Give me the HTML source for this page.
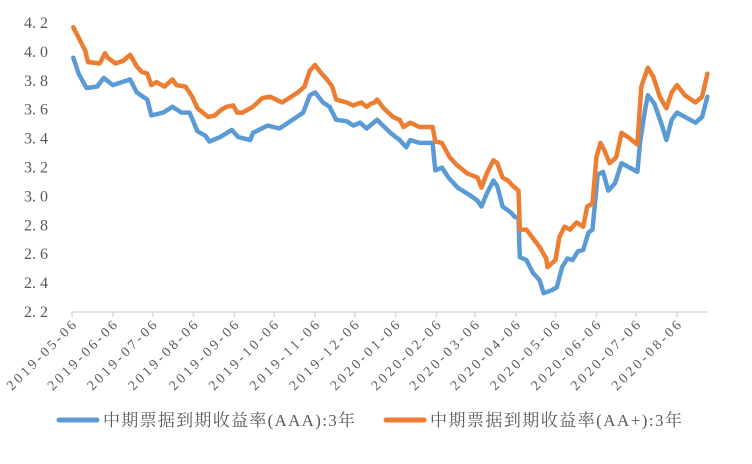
<!DOCTYPE html>
<html><head><meta charset="utf-8">
<style>
body{margin:0;background:#fff;}
svg{display:block;font-family:"Liberation Serif","Noto Serif CJK SC",serif;}
</style></head>
<body>
<svg id="chart" width="752" height="464" viewBox="0 0 752 464" xmlns="http://www.w3.org/2000/svg">
<g id="yaxis"></g>
<g id="xaxis"></g>
<g id="series"></g>
<g>
  <g>
    <line x1="59" y1="420" x2="97" y2="420" stroke="#5B9BD5" stroke-width="5" stroke-linecap="round"/>
    <text x="103" y="426" font-size="17" fill="#595959" textLength="252" font-family="'Liberation Serif','Noto Serif CJK SC',serif">中期票据到期收益率(AAA):3年</text>
  </g>
  <g>
    <line x1="386" y1="420" x2="424" y2="420" stroke="#ED7D31" stroke-width="5" stroke-linecap="round"/>
    <text x="430" y="426" font-size="17" fill="#595959" textLength="252" font-family="'Liberation Serif','Noto Serif CJK SC',serif">中期票据到期收益率(AA+):3年</text>
  </g>
</g>
</svg>
<script>
const yTicks = [2.2,2.4,2.6,2.8,3.0,3.2,3.4,3.6,3.8,4.0,4.2];
const yTickLabels = ["2. 2","2. 4","2. 6","2. 8","3. 0","3. 2","3. 4","3. 6","3. 8","4. 0","4. 2"];
const xTickDays = [0,31,61,92,123,153,184,214,245,276,305,336,366,397,427,458];
const xTickLabels = ["2019-05-06","2019-06-06","2019-07-06","2019-08-06","2019-09-06","2019-10-06","2019-11-06","2019-12-06","2020-01-06","2020-02-06","2020-03-06","2020-04-06","2020-05-06","2020-06-06","2020-07-06","2020-08-06"];
const aaaDays = [1,5,11,19,24,31,44,49,57,60,69,76,83,89,95,101,104,112,121,126,135,137,148,157,167,175,180,184,190,195,200,208,213,218,223,231,241,248,253,256,263,273,275,280,285,292,301,307,310,314,319,322,326,332,335,338,339,344,349,354,357,363,367,371,375,379,383,387,391,394,398,402,406,411,416,422,428,430,434,436,441,447,450,454,458,464,472,477,481];
const aaaValues = [3.96,3.85,3.75,3.76,3.82,3.77,3.81,3.72,3.67,3.56,3.58,3.62,3.58,3.58,3.45,3.42,3.38,3.41,3.46,3.41,3.39,3.44,3.49,3.47,3.53,3.58,3.70,3.72,3.65,3.62,3.53,3.52,3.49,3.51,3.47,3.53,3.44,3.39,3.34,3.39,3.37,3.37,3.18,3.20,3.13,3.06,3.01,2.97,2.93,3.02,3.11,3.07,2.93,2.89,2.86,2.85,2.58,2.56,2.47,2.42,2.33,2.35,2.37,2.51,2.57,2.56,2.62,2.63,2.75,2.77,3.15,3.17,3.04,3.09,3.23,3.20,3.17,3.37,3.61,3.70,3.64,3.48,3.39,3.53,3.58,3.55,3.51,3.55,3.69];
const aapDays = [1,10,12,21,25,27,33,39,44,49,53,57,60,64,70,76,79,86,91,95,99,103,108,113,117,122,125,129,137,144,150,159,166,171,176,180,184,188,193,197,200,208,213,219,223,226,229,231,236,243,248,251,256,263,273,275,280,286,291,299,307,310,314,319,322,326,330,334,338,339,344,349,354,359,360,366,369,373,377,382,387,390,394,397,400,403,407,412,416,421,428,431,436,440,445,450,454,458,464,472,477,481];
const aapValues = [4.17,4.01,3.93,3.92,3.99,3.96,3.92,3.94,3.98,3.90,3.86,3.85,3.77,3.79,3.76,3.81,3.77,3.76,3.69,3.61,3.58,3.55,3.56,3.60,3.62,3.63,3.58,3.58,3.62,3.68,3.69,3.65,3.69,3.72,3.76,3.87,3.91,3.86,3.81,3.76,3.67,3.65,3.63,3.65,3.62,3.64,3.65,3.67,3.61,3.55,3.53,3.48,3.51,3.48,3.48,3.38,3.37,3.27,3.22,3.16,3.13,3.06,3.16,3.25,3.23,3.13,3.11,3.07,3.04,2.77,2.77,2.71,2.65,2.57,2.51,2.56,2.72,2.79,2.77,2.82,2.79,2.93,2.95,3.27,3.37,3.32,3.23,3.27,3.44,3.41,3.36,3.76,3.89,3.83,3.69,3.61,3.72,3.77,3.70,3.65,3.69,3.85];

const NS = "http://www.w3.org/2000/svg";
const x0 = 72, pxPerDay = (677 - 72) / 458;
const yTop = 23, yBot = 312, vMin = 2.2, vMax = 4.2;
function xScale(d){ return x0 + d * pxPerDay; }
function yScale(v){ return yBot - (v - vMin) / (vMax - vMin) * (yBot - yTop); }
function mk(tag, attrs, parent){ const e = document.createElementNS(NS, tag); for (const k in attrs) e.setAttribute(k, attrs[k]); parent.appendChild(e); return e; }

const yaxis = document.getElementById('yaxis');
yTicks.forEach((v, i) => {
  const t = mk('text', {x: 48, y: yScale(v) + 5, 'text-anchor': 'end', 'font-size': 16, fill: '#595959'}, yaxis);
  
  
  t.textContent = yTickLabels[i];
});

const xaxis = document.getElementById('xaxis');
const axisLine = mk('line', {x1: 72, y1: yBot, x2: 708, y2: yBot, stroke: '#d9d9d9', 'stroke-width': 1.5}, xaxis);


xTickDays.forEach((d, i) => {
  const x = xScale(d);
  const tk = mk('line', {x1: x, y1: yBot, x2: x, y2: yBot + 5, stroke: '#d9d9d9', 'stroke-width': 1.5}, xaxis);
  
  
  const t = mk('text', {x: 0, y: 0, 'text-anchor': 'end', 'font-size': 14, 'textLength': 92, fill: '#595959', transform: `translate(${x + 5},${yBot + 14}) rotate(-45)`}, xaxis);
  
  
  t.textContent = xTickLabels[i];
});

const series = document.getElementById('series');
function drawLine(days, vals, color, name){
  const pts = days.map((d, i) => xScale(d).toFixed(1) + ',' + yScale(vals[i]).toFixed(1)).join(' ');
  const p = mk('polyline', {points: pts, fill: 'none', stroke: color, 'stroke-width': 4.5, 'stroke-linejoin': 'round', 'stroke-linecap': 'round'}, series);
  
  
}
drawLine(aaaDays, aaaValues, '#5B9BD5', 'series-aaa-line');
drawLine(aapDays, aapValues, '#ED7D31', 'series-aaplus-line');
</script>
</body></html>
